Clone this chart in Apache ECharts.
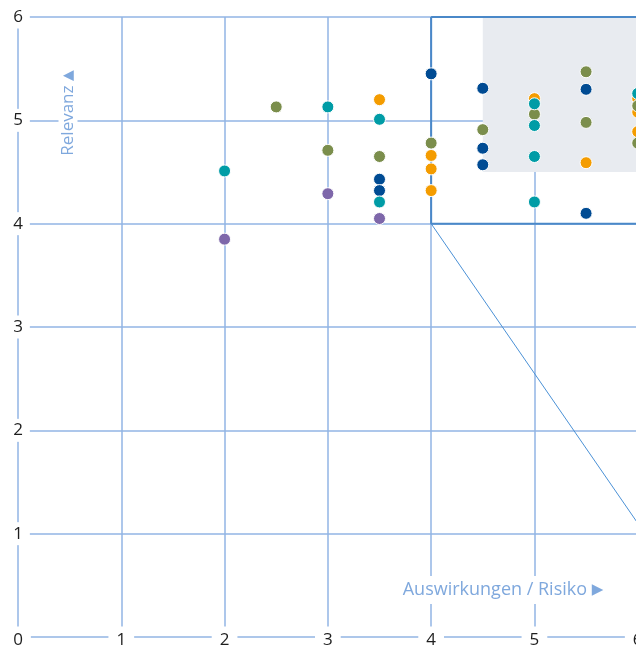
<!DOCTYPE html>
<html><head><meta charset="utf-8">
<script src="https://cdn.jsdelivr.net/npm/echarts@6/dist/echarts.min.js"></script>
<style>html,body{margin:0;padding:0;background:#fff}#c{width:636px;height:647px}</style>
</head><body><div id="c"></div>
<script>
// ---- data ----
const xAxisRange = [0, 7];
const yAxisRange = [0, 6];
const darkBlue = [[3.5,4.43],[3.5,4.32],[4,5.45],[4.5,5.31],[4.5,4.73],[4.5,4.57],[5.5,5.30],[5.5,4.10]];
const teal = [[2,4.51],[3,5.13],[3.5,5.01],[3.5,4.21],[5,5.16],[5,4.95],[5,4.65],[5,4.21],[6,5.26]];
const olive = [[2.5,5.13],[3,4.71],[3.5,4.65],[4,4.78],[4.5,4.91],[5,5.06],[5.5,5.47],[5.5,4.98],[6,5.14],[6,4.78]];
const orange = [[3.5,5.20],[4,4.66],[4,4.53],[4,4.32],[5,5.21],[5.5,4.59],[6,5.21],[6,5.08],[6,4.89]];
const purple = [[2,3.85],[3,4.29],[3.5,4.05]];
const focusArea = [[4.5,4.5],[7,6]];
const quadrantTop = [[4,6],[7,6]];
const quadrantEdge = [[4,6],[4,4],[7,4]];
const diagonal = [[4,4],[6.76,0]];
const xTitle = 'Auswirkungen / Risiko';
const yTitle = 'Relevanz';

// ---- styles ----
const gridColor = '#92b5e4';
const edgeColor = '#4a88c8';
const titleColor = '#7fa8dd';
const FONT = '"Open Sans", sans-serif';

const chart = echarts.init(document.getElementById('c'), null, {renderer:'canvas'});

function dots(name, data, color){
  return {name, type:'scatter', data, symbolSize:12, z:5,
    itemStyle:{color, borderColor:'#fff', borderWidth:1, opacity:1},
    emphasis:{disabled:true}, animation:false};
}
function edge(name, data){
  return {name, type:'line', data, symbol:'none', z:3, silent:true, clip:false,
    lineStyle:{color:edgeColor, width:2}};
}

chart.setOption({
  animation:false,
  backgroundColor:'#fff',
  grid:{left:18, top:17, width:723, height:620, outerBoundsMode:'none', containLabel:false},
  xAxis:{type:'value', min:xAxisRange[0], max:xAxisRange[1], interval:1,
    axisLine:{show:true, onZero:false, lineStyle:{color:gridColor, width:1.5}},
    axisTick:{show:false},
    axisLabel:{show:true, color:'#1e1e1e', fontFamily:FONT, fontSize:17, margin:3,
      verticalAlign:'middle', backgroundColor:'#fff', padding:[5,8]},
    splitLine:{show:true, showMinLine:false, lineStyle:{color:gridColor, width:1.5}}
  },
  yAxis:{type:'value', min:yAxisRange[0], max:yAxisRange[1], interval:1,
    axisLine:{show:true, onZero:false, lineStyle:{color:gridColor, width:1.5}},
    axisTick:{show:false},
    axisLabel:{show:true, showMinLabel:false, color:'#1e1e1e', fontFamily:FONT, fontSize:17, margin:0,
      align:'center', verticalAlign:'middle', backgroundColor:'#fff', padding:[3,7]},
    splitLine:{show:true, showMinLine:false, lineStyle:{color:gridColor, width:1.5}}
  },
  graphic:[
    {type:'text', z:100, x:503, y:590,
      style:{text:xTitle+' {t|▶}', fill:titleColor, font:'18px '+FONT, align:'center', verticalAlign:'middle',
        backgroundColor:'#fff', padding:[5,6],
        rich:{t:{fontSize:15, fill:titleColor, fontFamily:'"DejaVu Sans", sans-serif'}}}},
    {type:'text', z:100, x:68, y:113, rotation:Math.PI/2,
      style:{text:yTitle+' {t|▲}', fill:titleColor, font:'17px '+FONT, align:'center', verticalAlign:'middle',
        backgroundColor:'#fff', padding:[1,2],
        rich:{t:{fontSize:14, fill:titleColor, fontFamily:'"DejaVu Sans", sans-serif'}}}}
  ],
  series:[
    {name:'focus', type:'line', data:[], z:-1, silent:true,
      markArea:{silent:true, itemStyle:{color:'#e8ebf0', borderWidth:0},
        data:[[{coord:focusArea[0]},{coord:focusArea[1]}]]}},
    edge('edgeTop', quadrantTop),
    edge('edge', quadrantEdge),
    {name:'diagonal', type:'line', data:diagonal, symbol:'none', z:3, silent:true,
      lineStyle:{color:'#4b91d6', width:1}},
    dots('purple', purple, '#7e67aa'),
    dots('orange', orange, '#f49c00'),
    dots('olive', olive, '#7b8e4c'),
    dots('darkBlue', darkBlue, '#004b93'),
    dots('teal', teal, '#009ca6')
  ]
});
</script></body></html>
